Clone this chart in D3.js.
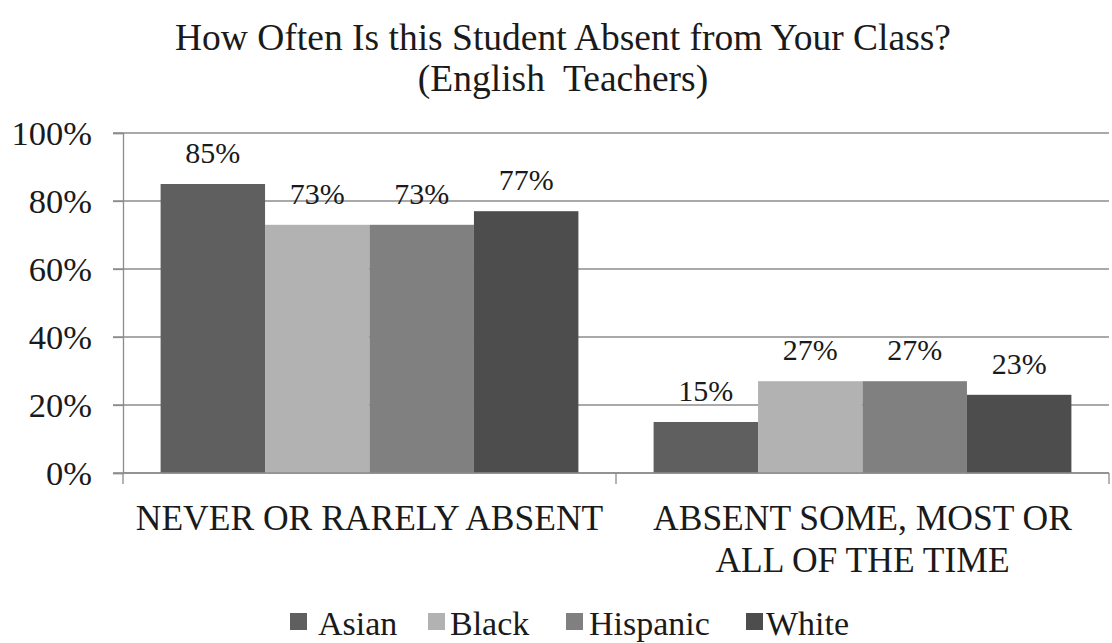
<!DOCTYPE html>
<html>
<head>
<meta charset="utf-8">
<script src="https://cdn.jsdelivr.net/npm/d3@7"></script>
<style>
  html, body { margin: 0; padding: 0; background: #fff; }
  .serif { font-family: "Liberation Serif", "Tinos", "Times New Roman", serif; white-space: pre; }
</style>
</head>
<body>
<svg id="chart" width="1112" height="643"></svg>
<script>
// Response categories (second one wraps onto two lines)
const categories = ["NEVER OR RARELY ABSENT", "ABSENT SOME, MOST OR ALL OF THE TIME"];
const categoryLines = [["NEVER OR RARELY ABSENT"], ["ABSENT SOME, MOST OR", "ALL OF THE TIME"]];
const series = ["Asian", "Black", "Hispanic", "White"];
const seriesColors = ["#5f5f5f", "#b2b2b2", "#808080", "#4d4d4d"];
// Percent of students, per series, per category
const asianValues = [85, 15];
const blackValues = [73, 27];
const hispanicValues = [73, 27];
const whiteValues = [77, 23];
const yTicks = [0, 20, 40, 60, 80, 100];
const titleLines = ["How Often Is this Student Absent from Your Class?", "(English  Teachers)"];

const valuesBySeries = [asianValues, blackValues, hispanicValues, whiteValues];
const FONT = "Liberation Serif";
const INK = "#1a1a1a";
const GRID = "#8c8c8c";

// Serif face and size for a text selection
function serif(sel, size) {
  return sel.classed("serif", true)
    .attr("font-family", FONT)
    .attr("font-size", size)
    .attr("xml:space", "preserve")
    .attr("fill", INK);
}

const svg = d3.select("#chart");
const margin = { left: 123, right: 3, top: 133, bottom: 170 };
const W = 1112, H = 643;

const x0 = d3.scaleBand().domain(categories).range([margin.left, W - margin.right]).paddingInner(0).paddingOuter(0);
const x1 = d3.scaleBand().domain(series).range([0, x0.bandwidth()]).paddingOuter(0.36).paddingInner(0);
const y = d3.scaleLinear().domain([0, 100]).range([H - margin.bottom, margin.top]);

// Title
serif(svg.append("g").selectAll("text").data(titleLines).join("text")
  .attr("x", 563).attr("y", (d, i) => 50 + i * 41)
  .attr("text-anchor", "middle"), 37.5)
  .text(d => d);

// Horizontal gridlines
svg.append("g").selectAll("line").data(yTicks).join("line")
  .attr("x1", margin.left - 10).attr("x2", W - margin.right)
  .attr("y1", d => y(d)).attr("y2", d => y(d))
  .attr("stroke", GRID).attr("stroke-width", 1.3);

// Y axis
const yAxis = d3.axisLeft(y).tickValues(yTicks).tickFormat(d => d + "%").tickSize(10).tickPadding(21);
const gy = svg.append("g").attr("transform", `translate(${margin.left},0)`).call(yAxis);
gy.attr("font-family", FONT).attr("font-size", 34);
gy.select(".domain").attr("stroke", GRID).attr("stroke-width", 1.3);
gy.selectAll(".tick line").attr("stroke", GRID).attr("stroke-width", 1.3);
serif(gy.selectAll(".tick text"), 34.5).attr("dy", "0.33em");

// Bars
const groups = svg.append("g").selectAll("g").data(categories).join("g")
  .attr("transform", d => `translate(${x0(d)},0)`);

const cellsFor = (c, ci) => series.map((s, si) => ({ s, si, v: valuesBySeries[si][ci] }));

groups.selectAll("rect")
  .data(cellsFor)
  .join("rect")
  .attr("x", d => x1(d.s))
  .attr("width", x1.bandwidth())
  .attr("y", d => y(d.v))
  .attr("height", d => y(0) - y(d.v))
  .attr("fill", d => seriesColors[d.si]);

// Value labels
serif(groups.selectAll("text.val")
  .data(cellsFor)
  .join("text").attr("class", "val")
  .attr("x", d => x1(d.s) + x1.bandwidth() / 2)
  .attr("y", d => y(d.v) - 21)
  .attr("text-anchor", "middle"), 30)
  .text(d => d.v + "%");

// X axis line with category separators
const xAxis = svg.append("g");
xAxis.append("line")
  .attr("x1", margin.left).attr("x2", W - margin.right)
  .attr("y1", y(0)).attr("y2", y(0))
  .attr("stroke", GRID).attr("stroke-width", 1.3);
const edges = [x0.range()[0], x0(categories[1]), x0.range()[1]];
xAxis.selectAll("line.sep").data(edges).join("line").attr("class", "sep")
  .attr("x1", d => d).attr("x2", d => d)
  .attr("y1", y(0)).attr("y2", y(0) + 11)
  .attr("stroke", GRID).attr("stroke-width", 1.3);

// Category labels, one text element per line
const catRows = categories.flatMap((c, ci) =>
  categoryLines[ci].map((line, li) => ({ c, line, li })));
serif(svg.append("g").selectAll("text").data(catRows).join("text")
  .attr("x", d => x0(d.c) + x0.bandwidth() / 2)
  .attr("y", d => 530 + d.li * 42)
  .attr("text-anchor", "middle"), 35.5)
  .text(d => d.line);

// Legend
const legendItems = [
  { name: series[0], sx: 290, tx: 318 },
  { name: series[1], sx: 428, tx: 450 },
  { name: series[2], sx: 566, tx: 589 },
  { name: series[3], sx: 746, tx: 766 }
];
const legend = svg.append("g").selectAll("g").data(legendItems).join("g");
legend.append("rect").attr("x", d => d.sx).attr("y", 613).attr("width", 17).attr("height", 17)
  .attr("fill", (d, i) => seriesColors[i]);
serif(legend.append("text").attr("x", d => d.tx).attr("y", 635), 34)
  .text(d => d.name);
</script>
</body>
</html>
